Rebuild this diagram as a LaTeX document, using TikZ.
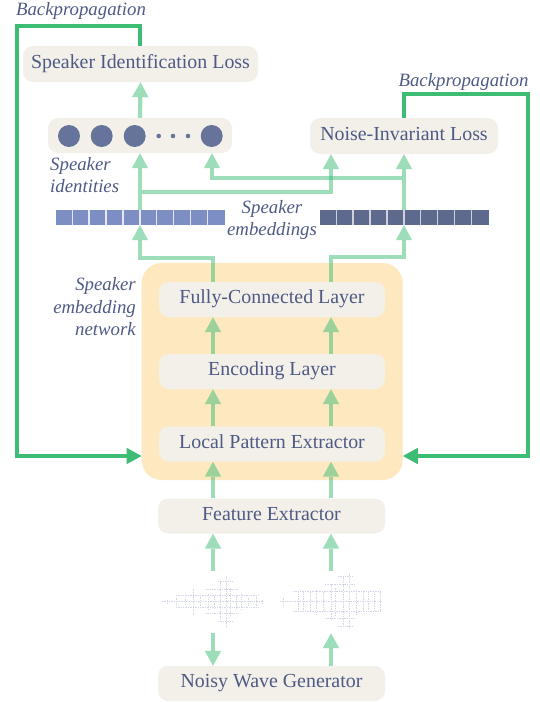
\documentclass[tikz,border=0pt]{standalone}
\usepackage{fontspec}
\setmainfont{Liberation Serif}
\usetikzlibrary{arrows.meta,calc}
\definecolor{txt}{HTML}{4E5A85}
\definecolor{boxfill}{HTML}{F3F0E9}
\definecolor{orangefill}{HTML}{FDE8C0}
\definecolor{gr}{HTML}{3DBC73}
\definecolor{dotc}{HTML}{66739A}
\definecolor{embl}{HTML}{7C8EC3}
\definecolor{embr}{HTML}{5E6A8D}
\definecolor{wave}{HTML}{D3D6E8}
\begin{document}
\begin{tikzpicture}[x=1pt,y=-1pt,
  box/.style={fill=boxfill, rounded corners=10pt, text=txt, font=\fontsize{19.9}{22}\selectfont,
    inner sep=0pt, text height=0.9em, text depth=0.09em},
  lab/.style={text=txt, font=\fontsize{18.8}{22.5}\selectfont\itshape, inner sep=0pt},
  arr/.style={draw=gr, opacity=0.5, line width=4.2pt, -{Triangle[width=16.5pt,length=15pt,line width=0pt]}},
  bp/.style={draw=gr, line width=4pt, -{Triangle[width=16.5pt,length=15pt,line width=0pt]}},
  spk/.style={circle, fill=dotc, minimum size=22pt, inner sep=0pt},
  sdot/.style={circle, fill=dotc, minimum size=4.6pt, inner sep=0pt},
  emb/.style={minimum width=169pt, minimum height=15pt, inner sep=0pt},
  wv/.style={draw=wave, line width=0.7pt, dash pattern=on 0.8pt off 0.9pt}
]
\useasboundingbox (0,0) rectangle (540,702);

% column coordinates
\coordinate (xA) at (140,0);
\coordinate (xC) at (212,0);
\coordinate (xL) at (213,0);
\coordinate (xR) at (331,0);
\coordinate (yb) at (0,456);
\coordinate (bpl) at (16.7,25.7);
\coordinate (bpr) at (527.7,94);

% network background
\node[fill=orangefill, rounded corners=20pt, minimum width=261pt, minimum height=217pt, inner sep=0pt] (net) at (272.2,371.5) {};

% boxes
\node[box, minimum width=235pt, minimum height=36pt] (sil) at (140.5,64) {Speaker Identification Loss};
\node[box, minimum width=188pt, minimum height=36pt] (nil) at (404,136) {Noise-Invariant Loss};
\node[box, minimum width=184pt, minimum height=35pt] (ids) at (140,135.5) {};
\node[box, minimum width=226pt, minimum height=35pt] (fc) at (272,299.5) {Fully-Connected Layer};
\node[box, minimum width=226pt, minimum height=35pt] (enc) at (272,371.5) {Encoding Layer};
\node[box, minimum width=226pt, minimum height=35pt] (lpe) at (272,444) {Local Pattern Extractor};
\node[box, minimum width=227pt, minimum height=35pt] (fe) at (271.5,516) {Feature Extractor};
\node[box, minimum width=227pt, minimum height=35pt] (nwg) at (271.5,683.5) {Noisy Wave Generator};

% speaker identity circles
\node[spk] (c1) at (69,136) {};
\node[spk] (c2) at (101.7,136) {};
\node[spk] (c3) at (134.7,136) {};
\node[spk] (c4) at (211.7,136) {};
\node[sdot] (d1) at (158.7,136) {};
\node[sdot] (d2) at (173,136) {};
\node[sdot] (d3) at (188,136) {};

% embeddings
\node[emb, fill=embl] (embL) at (140,217.5) {};
\node[emb, fill=embr] (embR) at (404,217.5) {};
\foreach \i in {1,...,9}{
  \draw[white!80!embl, line width=1.4pt] ($(embL.north west)+(\i*16.9,0)$) -- ($(embL.south west)+(\i*16.9,0)$);
  \draw[white!70!embr, line width=1.4pt] ($(embR.north west)+(\i*16.9,0)$) -- ($(embR.south west)+(\i*16.9,0)$);
}

% waveforms
\node[minimum width=101pt, minimum height=62pt, inner sep=0pt] (wl) at (212.5,602) {};
\node[minimum width=102pt, minimum height=62pt, inner sep=0pt] (wr) at (331,602) {};
\draw[wv] (162,601.7) -- (263,601.7);
\draw[wv] (176,595.7) -- (258,595.7) (176,607.7) -- (258,607.7);
\draw[wv] (205,589.7) -- (238,589.7) (205,613.7) -- (238,613.7);
\draw[wv] (218,581.7) -- (232,581.7) (218,621.7) -- (232,621.7);
\foreach \x/\h in {167/2,176.7/4,185/3,193.3/13,200/5,208.3/8,214/6,220/20,226/26,230/14,236/6,241.7/8,248/4,256.7/5,262/2}{
  \draw[wv] (\x,601.7-\h) -- (\x,601.7+\h);
}
\draw[wv] (280,601.7) -- (382,601.7);
\draw[wv] (293,591.7) -- (381,591.7) (293,611.7) -- (381,611.7);
\draw[wv] (325,584.7) -- (355,584.7) (325,618.7) -- (355,618.7);
\draw[wv] (338,576.7) -- (352,576.7) (338,626.7) -- (352,626.7);
\foreach \x/\h in {283/4,298/11,303/11,310/10,316.7/12,323/10,331.7/18,335/14,343/25,349.3/28,356/12,363/11,368/11,374/9,380/10}{
  \draw[wv] (\x,601.7-\h) -- (\x,601.7+\h);
}

% connectors
\draw[arr] (ids.north) -- (sil.south);
\draw[arr] (embL.north) -- (ids.south);
\coordinate (brL) at (142.1,192);
\draw[arr] (brL) -| (nil.south -| xR);
\draw[arr] (embR.north) -- (nil.south);
\coordinate (brR) at (401.9,178);
\draw[arr] (brR) -| (ids.south -| xC);
\draw[arr] (fc.north -| xL) -- ++(0,-24) -| (embL.south);
\draw[arr] (fc.north -| xR) -- ++(0,-25) -| (embR.south);
\draw[arr] (enc.north -| xL) -- (fc.south -| xL);
\draw[arr] (enc.north -| xR) -- (fc.south -| xR);
\draw[arr] (lpe.north -| xL) -- (enc.south -| xL);
\draw[arr] (lpe.north -| xR) -- (enc.south -| xR);
\draw[arr] (fe.north -| xL) -- (lpe.south -| xL);
\draw[arr] (fe.north -| xR) -- (lpe.south -| xR);
\draw[arr] (wl.north -| xL) -- (fe.south -| xL);
\draw[arr] (wr.north -| xR) -- (fe.south -| xR);
\draw[arr] (wl.south -| xL) -- (nwg.north -| xL);
\draw[arr] (nwg.north -| xR) -- (wr.south -| xR);

% backpropagation
\draw[bp] (sil.north -| xA) |- (bpl) |- (net.west |- yb);
\draw[bp] (nil.north) |- (bpr) |- (net.east |- yb);

% labels
\node[lab, anchor=base] (bp1) at (81,15.3) {Backpropagation};
\node[lab, anchor=base] (bp2) at (463.5,86.4) {Backpropagation};
\node[lab, anchor=base west] (si1) at (50,170.7) {Speaker};
\node[lab, anchor=base west] (si2) at (50,192.5) {identities};
\node[lab, anchor=base] (se1) at (272,213) {Speaker};
\node[lab, anchor=base] (se2) at (272,235.3) {embeddings};
\node[lab, anchor=base east] (sn1) at (136,290.7) {Speaker};
\node[lab, anchor=base east] (sn2) at (136,313.3) {embedding};
\node[lab, anchor=base east] (sn3) at (136,335.8) {network};
\end{tikzpicture}
\end{document}
